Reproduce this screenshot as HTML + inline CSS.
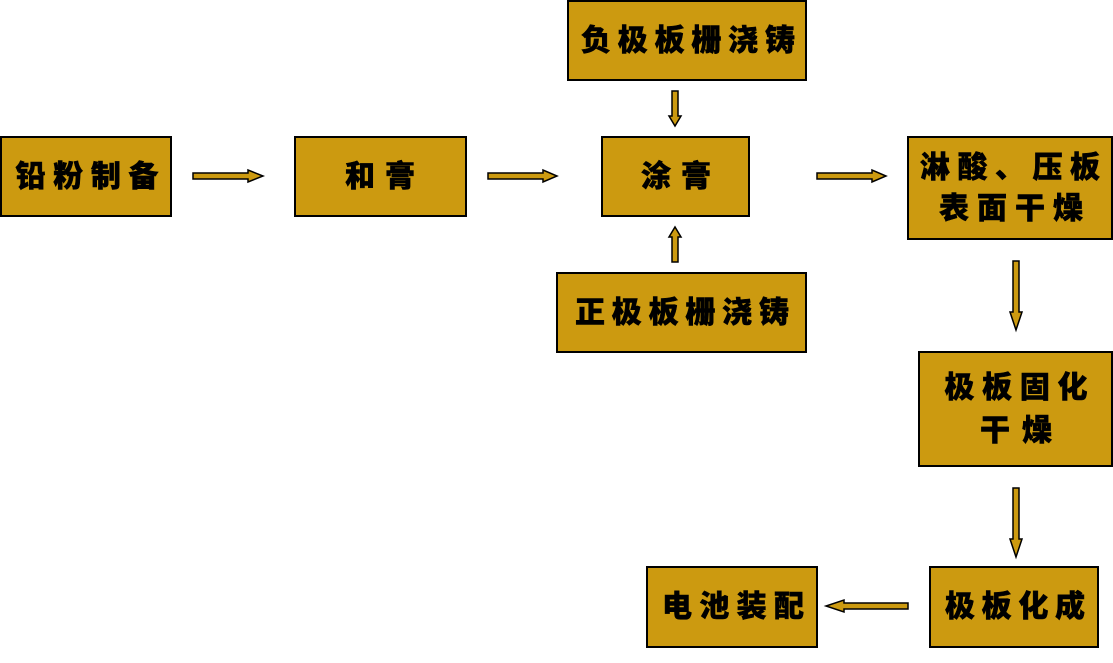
<!DOCTYPE html>
<html><head><meta charset="utf-8"><style>
body{margin:0;background:#fff;}
svg text{font-family:"Liberation Sans","Noto Sans CJK SC",sans-serif;font-weight:900;font-size:30px;fill:#000;stroke:#000;stroke-width:0.5;text-anchor:middle;dominant-baseline:central;}
</style></head><body>
<svg width="1113" height="658" xmlns="http://www.w3.org/2000/svg">
<g fill="#CC9A10" stroke="#000" stroke-width="2">
<rect x="1" y="137" width="170" height="79"/>
<rect x="295" y="137" width="171" height="79"/>
<rect x="602" y="137" width="147" height="79"/>
<rect x="568" y="1" width="238" height="79"/>
<rect x="557" y="273" width="249" height="79"/>
<rect x="908" y="137" width="204" height="102"/>
<rect x="919" y="352" width="193" height="114"/>
<rect x="930" y="567" width="168" height="80"/>
<rect x="647" y="567" width="170" height="80"/>
</g>
<g fill="#CC9A10" stroke="#000" stroke-width="1.5">
<path d="M193,173 H248 V170 L263,176 L248,182 V179 H193 Z"/>
<path d="M488,173 H543 V170 L557,176 L543,182 V179 H488 Z"/>
<path d="M817,173 H872 V170 L886,176 L872,182 V179 H817 Z"/>
<path d="M672,91 V116 H669 L675,126 L681,116 H678 V91 Z"/>
<path d="M672,262 V237 H669 L675,227 L681,237 H678 V262 Z"/>
<path d="M1013,261 V312 H1010 L1016,330 L1022,312 H1019 V261 Z"/>
<path d="M1013,488 V539 H1010 L1016,557 L1022,539 H1019 V488 Z"/>
<path d="M908,603 H844 V600 L826,606 L844,612 V609 H908 Z"/>
</g>
<text x="87" y="177" textLength="143" lengthAdjust="spacing">铅粉制备</text>
<text x="380" y="177" textLength="70" lengthAdjust="spacing">和膏</text>
<text x="676" y="177" textLength="70" lengthAdjust="spacing">涂膏</text>
<text x="688" y="41" textLength="214" lengthAdjust="spacing">负极板栅浇铸</text>
<text x="682" y="313" textLength="214" lengthAdjust="spacing">正极板栅浇铸</text>
<text x="1010" y="168" textLength="180" lengthAdjust="spacing">淋酸、压板</text>
<text x="1011" y="209" textLength="144" lengthAdjust="spacing">表面干燥</text>
<text x="1016" y="388" textLength="143" lengthAdjust="spacing">极板固化</text>
<text x="1016" y="431" textLength="72" lengthAdjust="spacing">干燥</text>
<text x="1015" y="607" textLength="140" lengthAdjust="spacing">极板化成</text>
<text x="733" y="607" textLength="142" lengthAdjust="spacing">电池装配</text>
</svg>
</body></html>
